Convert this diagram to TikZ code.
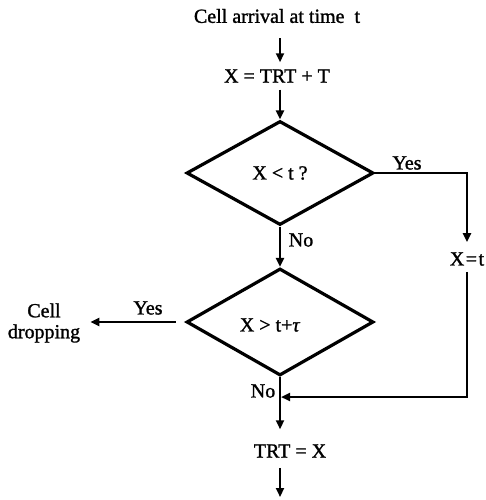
\documentclass[tikz,border=0pt]{standalone}
\usepackage{fontspec}
\setmainfont{Liberation Serif}[FakeBold=1.3]
\usetikzlibrary{shapes.geometric,arrows.meta}
\begin{document}
\begin{tikzpicture}[x=1pt,y=-1pt,
  lbl/.style={font=\fontsize{20}{21}\selectfont, inner sep=0pt},
  dec/.style={diamond, draw, line width=3.2pt, minimum width=187pt, minimum height=104pt, inner sep=0pt, font=\fontsize{20}{21}\selectfont},
  arr/.style={line width=2.2pt, -{Triangle[length=9pt,width=8pt]}}]
\useasboundingbox (0,0) rectangle (486,500);
% nodes
\node[lbl] (title) at (277,16) {Cell arrival at time\ \ t};
\node[lbl] (eq1) at (277,76) {X = TRT + T};
\node[dec] (d1) at (280,173) {X < t ?};
\node[dec, minimum height=107pt] (d2) at (280,322) {};
\node[lbl] (d2t) at (270,325) {X > t+\textit{τ}};
\node[lbl] (xt) at (467,259) {X\kern1.5pt=\kern1.5pt t};
\node[lbl] (trt) at (290,451) {TRT = X};
\node[lbl, align=center] (cd) at (44,323) {Cell\\dropping};
\node[lbl] (yes1) at (407,163) {Yes};
\node[lbl] (no1) at (301,240) {No};
\node[lbl] (yes2) at (148,308) {Yes};
\node[lbl] (no2) at (263,391) {No};
\coordinate (m) at (280,397);
\coordinate (endp) at (280,497);
% connectors
\draw[arr, shorten <=15pt, shorten >=7pt] (title.south -| d1.north) -- (eq1.north -| d1.north);
\draw[arr, shorten <=7pt] (eq1.south -| d1.north) -- (d1.north);
\draw[arr, shorten >=10pt] (d1.east) -| (xt.north);
\draw[arr, shorten <=6pt, shorten >=1pt] (xt.south) |- (m);
\draw[arr] (d1.south) -- (d2.north);
\draw[arr, shorten <=9pt, shorten >=10pt] (d2.west) -- (d2.west -| cd.east);
\draw[arr, shorten >=15pt] (d2.south) -- (d2.south |- trt.north);
\draw[arr, shorten <=10pt] (trt.south -| endp) -- (endp);
\end{tikzpicture}
\end{document}
